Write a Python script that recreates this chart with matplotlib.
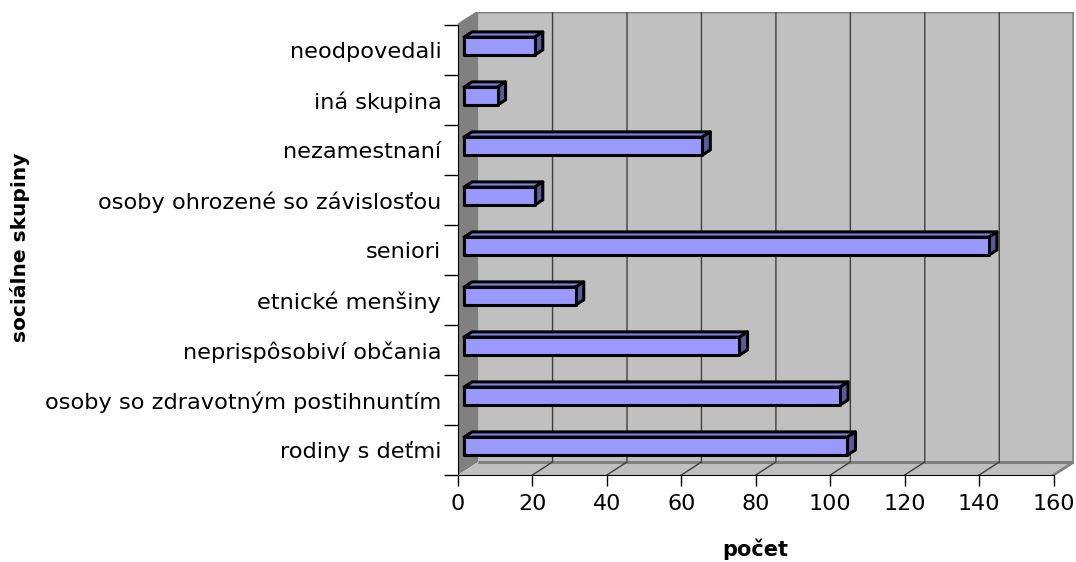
import numpy as np
import matplotlib
matplotlib.use("Agg")
import matplotlib.pyplot as plt
from matplotlib.patches import Polygon

plt.rcParams["font.family"] = ["DejaVu Sans"]

# data (bottom to top)
categories = [
    "rodiny s deťmi",
    "osoby so zdravotným postihnuntím",
    "neprispôsobiví občania",
    "etnické menšiny",
    "seniori",
    "osoby ohrozené so závislosťou",
    "nezamestnaní",
    "iná skupina",
    "neodpovedali",
]
counts = [103, 101, 74, 30, 141, 19, 64, 9, 19]
x_ticks = [0, 20, 40, 60, 80, 100, 120, 140, 160]

XMAX = 160
DX, DY = 5.4, 0.26          # depth offset of the 3d box, in data units
Z0, Z1 = 0.3, 0.7           # bar depth range (fraction of box depth)
H = 0.36                    # bar thickness

WALL = "#c0c0c0"
SIDE = "#808080"
GRID = "#404040"
BAR_FRONT = "#9999ff"
BAR_TOP = "#8282e6"
BAR_SIDE = "#5a5a9c"


def main():
    fig = plt.figure(figsize=(10.76, 5.62), dpi=100)
    n = len(categories)
    ymin, ymax = -0.5, n - 0.5
    ax = fig.add_axes([458 / 1076, 87 / 562,
                       (XMAX + DX) * 3.7225 / 1076, (n + DY) * 50 / 562])
    ax.set_xlim(0, XMAX + DX)
    ax.set_ylim(ymin, ymax + DY)
    ax.patch.set_visible(False)

    # walls and floor
    back = Polygon([(DX, ymin + DY), (XMAX + DX, ymin + DY),
                    (XMAX + DX, ymax + DY), (DX, ymax + DY)],
                   facecolor=WALL, edgecolor="none", zorder=0)
    left = Polygon([(0, ymin), (DX, ymin + DY), (DX, ymax + DY), (0, ymax)],
                   facecolor=SIDE, edgecolor="none", zorder=0)
    floor = Polygon([(0, ymin), (XMAX, ymin), (XMAX + DX, ymin + DY),
                     (DX, ymin + DY)],
                    facecolor=WALL, edgecolor="none", zorder=0)
    for p in (back, left, floor):
        ax.add_patch(p)
    ax.plot([DX, XMAX + DX], [ymin + DY, ymin + DY], color=SIDE, lw=2.2,
            zorder=0.5, solid_capstyle="butt")
    ax.plot([XMAX, XMAX + DX, XMAX + DX], [ymin, ymin + DY, ymax + DY],
            color=SIDE, lw=2, zorder=0.5)
    ax.plot([0, DX, XMAX + DX], [ymax, ymax + DY, ymax + DY],
            color=SIDE, lw=2, zorder=0.5)

    # gridlines on floor and back wall
    for v in x_ticks[1:-1]:
        ax.plot([v, v + DX, v + DX], [ymin, ymin + DY, ymax + DY],
                color=GRID, lw=1, zorder=1)

    # bars
    for i, v in enumerate(counts):
        b, t = i - H / 2, i + H / 2
        front = [(Z0 * DX, b + Z0 * DY), (v + Z0 * DX, b + Z0 * DY),
                 (v + Z0 * DX, t + Z0 * DY), (Z0 * DX, t + Z0 * DY)]
        top = [(Z0 * DX, t + Z0 * DY), (v + Z0 * DX, t + Z0 * DY),
               (v + Z1 * DX, t + Z1 * DY), (Z1 * DX, t + Z1 * DY)]
        side = [(v + Z0 * DX, b + Z0 * DY), (v + Z1 * DX, b + Z1 * DY),
                (v + Z1 * DX, t + Z1 * DY), (v + Z0 * DX, t + Z0 * DY)]
        for pts, col in ((top, BAR_TOP), (side, BAR_SIDE), (front, BAR_FRONT)):
            ax.add_patch(Polygon(pts, facecolor=col, edgecolor="black",
                                 lw=2.2, joinstyle="round", zorder=3))

    # axes
    for s in ("top", "right"):
        ax.spines[s].set_visible(False)
    ax.spines["left"].set_bounds(ymin, ymax)
    ax.spines["bottom"].set_bounds(0, XMAX)
    ax.spines["left"].set_zorder(4)
    ax.spines["bottom"].set_zorder(4)

    ax.set_xticks(x_ticks)
    ax.set_xticklabels([str(v) for v in x_ticks], fontsize=16)
    ax.tick_params(axis="x", length=8, width=1, pad=6)

    ax.set_yticks(range(n))
    ax.set_yticklabels(categories, fontsize=16.2)
    ax.set_yticks(np.arange(ymin, ymax + 0.5, 1.0), minor=True)
    ax.tick_params(axis="y", which="major", length=0, pad=12)
    ax.tick_params(axis="y", which="minor", length=10, width=1)

    fig.text(755 / 1076, 1 - 549 / 562, "počet", fontsize=15,
             fontweight="bold", ha="center", va="center")
    fig.text(20 / 1076, 1 - 247 / 562, "sociálne skupiny", fontsize=14.5,
             fontweight="bold", rotation=90, ha="center", va="center")

    fig.savefig("out.png", dpi=100)


if __name__ == "__main__":
    main()
